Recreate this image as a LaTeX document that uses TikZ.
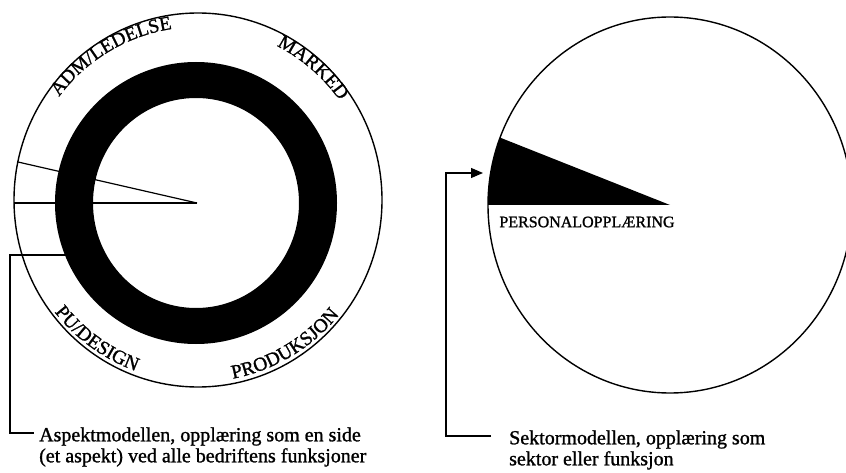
\documentclass[tikz,border=0pt]{standalone}
\usepackage{fontspec}
\setmainfont{Liberation Serif}
\newfontfamily\heavyserif{Liberation Serif}[FakeBold=1.2]
\usetikzlibrary{arrows.meta,decorations.text}
\newcommand{\myArcFont}{\heavyserif\fontsize{19.5}{20}\selectfont}
\begin{document}
\begin{tikzpicture}[x=1pt,y=-1pt,
  outline/.style={line width=1.4pt},
  thinline/.style={line width=1.2pt},
  caption/.style={align=left, anchor=west, inner sep=0pt, font=\heavyserif\fontsize{20}{21}\selectfont},
  arclabel/.style={decorate, decoration={text along path, text align=center, text={|\myArcFont|#1}}},
  arrowtip/.style={-{Triangle[length=12pt,width=10pt]}}
]
\useasboundingbox (0,0) rectangle (846,473);
\fill[white] (0,0) rectangle (846,473);
\clip (0,0) rectangle (846,473);

% ---------- left: aspect model ----------
\coordinate (Lc) at (198,200);
\coordinate (Lapex) at (197,203);
\coordinate (Lh) at (14,203);
\coordinate (Lu) at (18,162);
\draw[outline] (Lc) ellipse [x radius=184pt, y radius=187pt];
\draw[thinline] (Lapex) -- (Lh);
\draw[thinline] (Lapex) -- (Lu);
\fill[black,even odd rule] (196,203) ellipse [x radius=141pt, y radius=141pt]
                           (196,203) ellipse [x radius=103pt, y radius=105pt];

\path[arclabel={ADM/LEDELSE}] (Lc) ++(161:173pt) arc[start angle=161, end angle=81, radius=173pt];
\path[arclabel={MARKED}] (Lc) ++(89:173pt) arc[start angle=89, end angle=9, radius=173pt];
\path[arclabel={PU/DESIGN}] (Lc) ++(194:182pt) arc[start angle=194, end angle=274, radius=182pt];
\path[arclabel={PRODUKSJON}] (Lc) ++(261:182pt) arc[start angle=261, end angle=341, radius=182pt];

\coordinate (ringpt) at (65,255);
\coordinate (cornerL) at (10,255);
\coordinate (stubL) at (34,433);
\draw[thinline] (ringpt) -- (cornerL) |- (stubL);
\node[caption] (aspekt) at (39,447) {Aspektmodellen, opplæring som en side\\(et aspekt) ved alle bedriftens funksjoner};

% ---------- right: sector model ----------
\coordinate (Rc) at (670,205);
\draw[outline] (Rc) ellipse [x radius=182pt, y radius=188pt];
\fill[black] (Rc) -- ++(180:182pt and 188pt) arc[start angle=180, end angle=159, x radius=182pt, y radius=188pt] -- cycle;
\node[inner sep=0pt, font=\heavyserif\fontsize{16}{16}\selectfont] (persopp) at (587,222) {PERSONALOPPLÆRING};

\coordinate (stubR) at (491,436);
\coordinate (cornerR) at (446,436);
\coordinate (arrowR) at (446,173);
\coordinate (tipR) at (483,173);
\draw[thinline,arrowtip] (stubR) -- (cornerR) -- (arrowR) -- (tipR);
\node[caption] (sektor) at (509,450) {Sektormodellen, opplæring som\\sektor eller funksjon};
\end{tikzpicture}
\end{document}
